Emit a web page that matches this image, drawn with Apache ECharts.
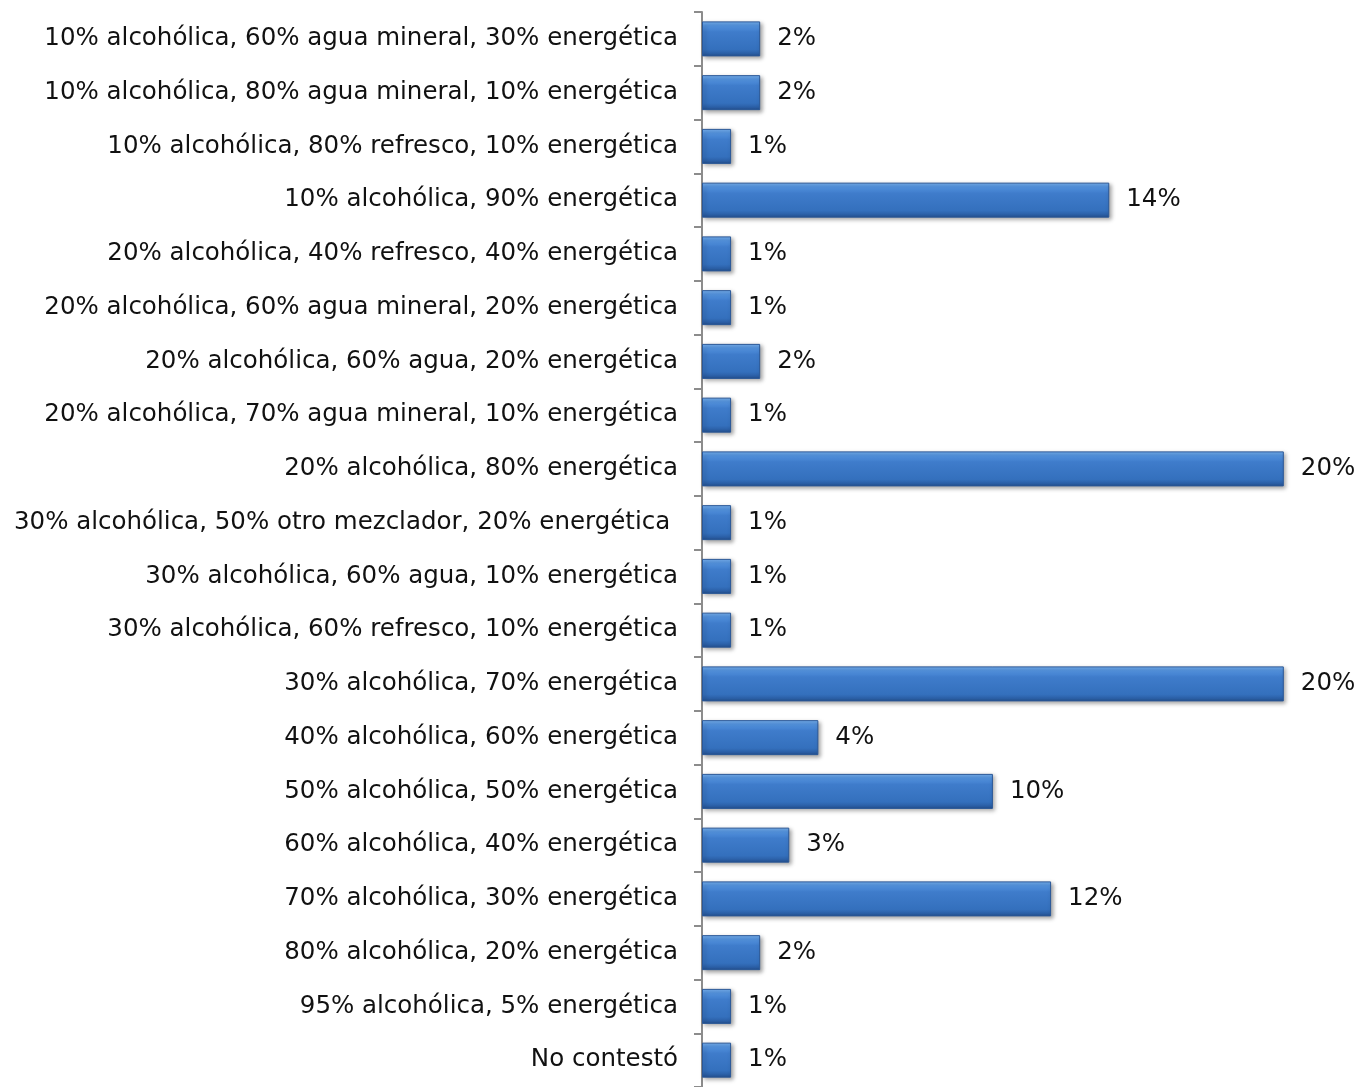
<!DOCTYPE html>
<html><head><meta charset="utf-8">
<script src="https://cdn.jsdelivr.net/npm/echarts@6/dist/echarts.min.js"></script>
<style>html,body{margin:0;padding:0;background:#fff}#c{width:1360px;height:1087px}</style>
</head><body><div id="c"></div>
<script>
const categories = [
  "10% alcohólica, 60% agua mineral, 30% energética",
  "10% alcohólica, 80% agua mineral, 10% energética",
  "10% alcohólica, 80% refresco, 10% energética",
  "10% alcohólica, 90% energética",
  "20% alcohólica, 40% refresco, 40% energética",
  "20% alcohólica, 60% agua mineral, 20% energética",
  "20% alcohólica, 60% agua, 20% energética",
  "20% alcohólica, 70% agua mineral, 10% energética",
  "20% alcohólica, 80% energética",
  "30% alcohólica, 50% otro mezclador, 20% energética ",
  "30% alcohólica, 60% agua, 10% energética",
  "30% alcohólica, 60% refresco, 10% energética",
  "30% alcohólica, 70% energética",
  "40% alcohólica, 60% energética",
  "50% alcohólica, 50% energética",
  "60% alcohólica, 40% energética",
  "70% alcohólica, 30% energética",
  "80% alcohólica, 20% energética",
  "95% alcohólica, 5% energética",
  "No contestó"
];
const values = [2, 2, 1, 14, 1, 1, 2, 1, 20, 1, 1, 1, 20, 4, 10, 3, 12, 2, 1, 1];

const FONT = 'DejaVu Sans, Verdana, sans-serif';
const chart = echarts.init(document.getElementById('c'), null, {renderer: 'canvas'});
chart.setOption({
  backgroundColor: '#ffffff',
  animation: false,
  textStyle: {fontFamily: FONT},
  grid: {left: 702, right: 18, top: 12, bottom: -5, containLabel: false},
  xAxis: {type: 'value', min: 0, max: 22, show: false},
  yAxis: {
    type: 'category',
    data: categories,
    inverse: true,
    axisLine: {show: true, lineStyle: {color: '#8c8c8c', width: 2}},
    axisTick: {show: true, inside: false, length: 8, lineStyle: {color: '#8c8c8c', width: 2}},
    axisLabel: {color: '#111', fontSize: 24.5, margin: 24, fontFamily: FONT},
    splitLine: {show: false}
  },
  series: [{
    type: 'bar',
    data: values,
    barWidth: 35,
    itemStyle: {
      color: new echarts.graphic.LinearGradient(0, 0, 0, 1, [
        {offset: 0, color: '#7ab4f2'},
        {offset: 0.12, color: '#5494e0'},
        {offset: 0.3, color: '#3f7ccb'},
        {offset: 0.8, color: '#3470bd'},
        {offset: 0.92, color: '#2b5fa6'},
        {offset: 1, color: '#234f8c'}
      ]),
      borderColor: '#2a5797',
      borderWidth: 1,
      shadowColor: 'rgba(0,0,0,0.35)',
      shadowBlur: 4,
      shadowOffsetX: 2,
      shadowOffsetY: 2
    },
    label: {
      show: true, position: 'right', distance: 17,
      formatter: p => p.value + '%',
      color: '#111', fontSize: 24.5, fontFamily: FONT
    }
  }]
});
</script></body></html>
